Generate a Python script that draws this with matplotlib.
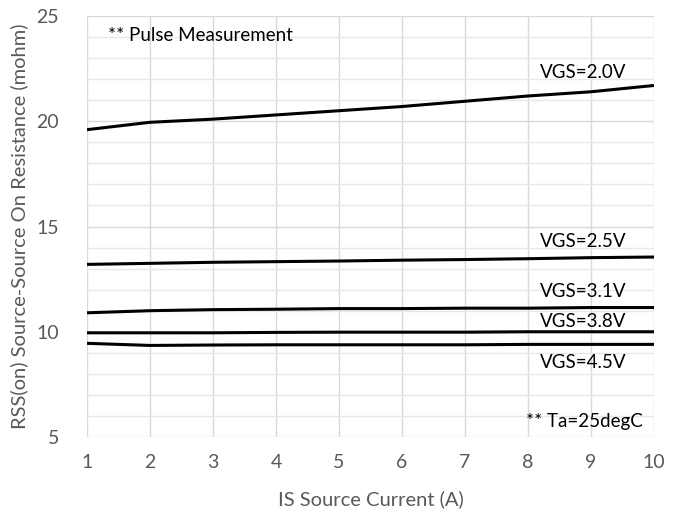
import matplotlib.pyplot as plt
from matplotlib.ticker import MultipleLocator

plt.rcParams['font.family'] = ['Lato', 'DejaVu Sans']

current_a = [1, 2, 3, 4, 5, 6, 7, 8, 9, 10]
rds_vgs20 = [19.6, 19.95, 20.1, 20.3, 20.5, 20.7, 20.95, 21.2, 21.4, 21.7]
rds_vgs25 = [13.2, 13.25, 13.3, 13.33, 13.36, 13.4, 13.43, 13.47, 13.52, 13.55]
rds_vgs31 = [10.9, 11.0, 11.05, 11.07, 11.1, 11.1, 11.12, 11.12, 11.15, 11.15]
rds_vgs38 = [9.95, 9.95, 9.95, 9.97, 9.98, 9.98, 9.98, 10.0, 10.0, 10.0]
rds_vgs45 = [9.45, 9.35, 9.37, 9.38, 9.38, 9.38, 9.38, 9.4, 9.4, 9.4]

series = [rds_vgs20, rds_vgs25, rds_vgs31, rds_vgs38, rds_vgs45]
labels = ["VGS=2.0V", "VGS=2.5V", "VGS=3.1V", "VGS=3.8V", "VGS=4.5V"]
label_y = [22.3, 14.3, 11.9, 10.5, 8.55]

fig = plt.figure(figsize=(6.82, 5.21), dpi=100)
ax = fig.add_axes([87 / 682, 1 - 437 / 521, (654 - 87) / 682, (437 - 16) / 521])

for vals in series:
    ax.plot(current_a, vals, color="black", lw=2.2, solid_capstyle="butt", zorder=3)

for lab, ly in zip(labels, label_y):
    ax.text(8.88, ly, lab, ha="center", va="center", fontsize=13.5, color="black")

ax.text(1.33, 24.05, "** Pulse Measurement", ha="left", va="center", fontsize=13.5)
ax.text(8.9, 5.75, "** Ta=25degC", ha="center", va="center", fontsize=13.5)

ax.set_xlim(1, 10)
ax.set_ylim(5, 25)
ax.xaxis.set_major_locator(MultipleLocator(1))
ax.yaxis.set_major_locator(MultipleLocator(5))
ax.yaxis.set_minor_locator(MultipleLocator(1))
ax.grid(which="major", color="#d9d9d9", lw=1.0)
ax.grid(which="minor", axis="y", color="#e8e8e8", lw=1.0)
ax.set_axisbelow(True)
for sp in ax.spines.values():
    sp.set_visible(False)
ax.tick_params(which="both", length=0, labelsize=14, labelcolor="#595959", pad=12)
ax.tick_params(axis="y", pad=20)

ax.set_xlabel("IS Source Current (A)", fontsize=14.5, color="#595959", labelpad=14)
ax.set_ylabel("RSS(on) Source-Source On Resistance (mohm)", fontsize=14.5, color="#595959", labelpad=6)

fig.savefig("out.png", dpi=100)
